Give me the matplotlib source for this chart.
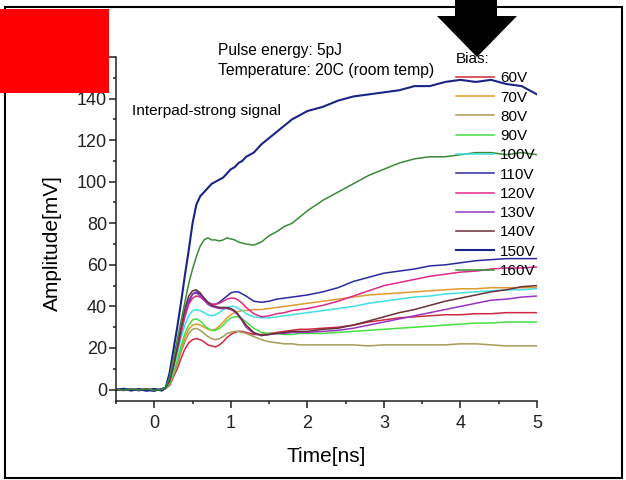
import matplotlib
matplotlib.use('Agg')
import matplotlib.pyplot as plt
from matplotlib.ticker import MultipleLocator
from matplotlib.patches import Rectangle, Polygon

plt.rcParams['font.family'] = ['Liberation Sans', 'DejaVu Sans']

# time axis [ns], shared by every trace
t = [-0.5, -0.4, -0.3, -0.2, -0.1, 0.0, 0.1,
     0.15, 0.2, 0.25, 0.3, 0.35, 0.4, 0.45, 0.5, 0.55, 0.6, 0.65, 0.7, 0.75,
     0.8, 0.85, 0.9, 0.95, 1.0, 1.05, 1.1, 1.15, 1.2,
     1.3, 1.4, 1.5, 1.6, 1.7, 1.8, 1.9, 2.0,
     2.2, 2.4, 2.6, 2.8, 3.0, 3.2, 3.4, 3.6, 3.8, 4.0, 4.2, 4.4, 4.6, 4.8, 5.0]

# amplitude [mV] per bias voltage
v60 = [0.2, -0.3, 0.1, -0.4, 0.2, -0.3, 0.3,
       0.5, 2, 6, 10, 15, 19.5, 22.5, 24, 24.5, 24, 23, 21.5, 21,
       20.5, 21.5, 23, 25, 26.5, 27.5, 28, 28, 27.5,
       26.5, 26.5, 27, 27.5, 28, 28.5, 29, 29,
       29.5, 30, 31, 32.5, 33.5, 34.5, 35, 35.5, 36, 36, 36.5, 36.5, 37, 37, 37]
v70 = [-0.2, 0.3, -0.2, 0.1, -0.3, 0.2, -0.2,
       0.5, 3, 7, 13, 19, 25, 29, 31, 31.5, 31, 30, 29, 28.5,
       29, 30.5, 32.5, 34.5, 36, 37, 37.5, 38, 38,
       38.5, 38.5, 39, 39.5, 40, 40.5, 41, 41.5,
       42.5, 43.5, 44.5, 45.5, 46, 46.5, 47, 47.5, 48, 48.5, 48.5, 49, 49, 49, 49]
v80 = [0.1, -0.4, 0.3, -0.2, 0.2, -0.5, 0.2,
       0.5, 3, 7, 12, 18, 23, 27, 29, 29.5, 28.5, 27, 25.5, 24.5,
       24, 24.5, 25.5, 27, 27.5, 28, 28, 27.5, 27,
       25.5, 24, 23, 22.5, 22, 22, 21.5, 21.5,
       21.5, 21.5, 21.5, 21, 21.5, 21.5, 21.5, 21.5, 21.5, 22, 22, 21.5, 21, 21, 21]
v90 = [-0.3, 0.2, -0.1, 0.3, -0.4, 0.1, -0.1,
       0.5, 3, 8, 14, 21, 27, 31, 33.5, 34, 33, 31, 29.5, 28.5,
       28.5, 29.5, 31, 33, 34.5, 35, 35, 34, 32.5,
       29.5, 27.5, 27, 27, 26.5, 26.5, 27, 27,
       27, 27.5, 28, 28.5, 29, 29.5, 30, 30.5, 31, 31.5, 32, 32, 32.5, 32.5, 32.5]
v100 = [0.3, -0.2, 0.2, -0.5, 0.1, -0.2, 0.4,
        1, 4, 10, 17, 25, 31, 35.5, 38, 38.5, 38, 37, 36, 35.5,
        36, 37, 38.5, 39.5, 40, 40, 39, 38, 36.5,
        35, 34.5, 34.5, 35, 35.5, 36, 36.5, 37,
        38, 39, 40, 41.5, 42.5, 43.5, 44.5, 45, 46, 46.5, 47, 47.5, 48, 48, 48.5]
v110 = [-0.4, 0.1, -0.6, 0.2, -0.3, -0.8, 0.5,
        1, 5, 12, 20, 28, 36, 42, 46, 47, 46, 44, 42, 41,
        41, 42, 43.5, 45, 46.5, 47, 47, 46, 45,
        42.5, 42, 42.5, 43.5, 44, 44.5, 45, 45.5,
        47, 49, 52, 54, 56, 57, 58, 59.5, 60, 61, 62, 62.5, 63, 63, 63]
v120 = [0.2, -0.5, 0.3, -0.2, 0.4, -0.3, 0.2,
        1, 5, 11, 19, 27, 35, 41, 44, 45, 44.5, 43, 42, 41,
        41, 41.5, 42.5, 43.5, 44, 44, 43, 41.5, 39.5,
        36.5, 35, 35.5, 36.5, 37, 38, 38.5, 39,
        40.5, 42.5, 45, 47.5, 50, 51.5, 53, 54.5, 55.5, 56.5, 57, 58, 58.5, 58.5, 59]
v130 = [-0.1, 0.2, -0.4, 0.3, -0.2, 0.1, -0.3,
        1, 5, 12, 20, 29, 37, 43, 46, 46.5, 45, 43, 41, 40,
        39.5, 39, 39, 39, 38.5, 37.5, 35.5, 33, 30,
        27, 26, 26.5, 27, 27, 27.5, 27.5, 27.5,
        28, 28.5, 29.5, 31, 32.5, 34, 35.5, 37, 38.5, 40, 41.5, 43, 43.5, 44.5, 45]
v140 = [0.3, -0.2, 0.1, -0.5, 0.3, -0.4, 0.2,
        1, 4, 11, 20, 30, 39, 45, 47.5, 48, 46.5, 44, 42, 40.5,
        40, 39.5, 39.5, 39.5, 39, 38, 36, 33.5, 31,
        27.5, 26, 26.5, 27, 27.5, 28, 28, 28,
        29, 29.5, 31, 33, 35, 37, 38.5, 40.5, 42.5, 44, 45.5, 47, 48, 49.5, 50]
v150 = [-0.2, 0.4, -0.3, 0.2, -0.6, 0.3, -0.5,
        1, 8, 19, 30, 42, 55, 67, 80, 89, 93, 95, 97, 99,
        100, 101, 102, 104, 106, 107, 109, 110, 112,
        114, 118, 121, 124, 127, 130, 132, 134,
        136, 139, 141, 142, 143, 144, 146, 146, 148, 149, 148, 149, 147, 146, 142]
v160 = [0.1, -0.3, 0.2, -0.1, 0.3, -0.4, 0.1,
        1, 6, 15, 24, 33, 42, 51, 58, 64, 69, 72, 73, 72,
        72, 71.5, 72, 73, 72.5, 72, 71, 70.5, 70,
        69.5, 71, 74, 76, 78.5, 80, 83, 86,
        91, 95, 99, 103, 106, 109, 111, 112, 112, 113, 114, 114, 113, 114, 113]

series = [v60, v70, v80, v90, v100, v110, v120, v130, v140, v150, v160]
labels = ['60V', '70V', '80V', '90V', '100V', '110V', '120V', '130V', '140V', '150V', '160V']
colors = ['#d02840', '#e09a30', '#a89a58', '#44e044', '#40e0e0', '#2a2aa0',
          '#e0288c', '#9a34c0', '#6a3038', '#1a2488', '#3a8a3a']

W, H = 626, 480
fig = plt.figure(figsize=(W / 100, H / 100), dpi=100)


def fx(x):
    return x / W


def fy(y):
    return 1 - y / H


ax = fig.add_axes([fx(116), fy(401), fx(537) - fx(116), fy(57) - fy(401)])

for vals, lab, col in zip(series, labels, colors):
    lw = 1.5 if lab == '150V' else 1.1
    ax.plot(t, vals, color=col, lw=lw, label=lab)

ax.set_xlim(-0.5, 5)
ax.set_ylim(-5.5, 160)
ax.xaxis.set_major_locator(MultipleLocator(1))
ax.xaxis.set_minor_locator(MultipleLocator(0.5))
ax.yaxis.set_major_locator(MultipleLocator(20))
ax.yaxis.set_minor_locator(MultipleLocator(10))
for s in ['top', 'right']:
    ax.spines[s].set_visible(False)
for s in ['left', 'bottom']:
    ax.spines[s].set_linewidth(1.1)
    ax.spines[s].set_color('#222222')
ax.tick_params(which='major', direction='out', length=5, width=1.1, labelsize=13, colors='#222222')
ax.tick_params(which='minor', direction='out', length=2.5, width=1.1, colors='#222222')
ax.tick_params(axis='x', which='major', pad=5)
ax.tick_params(axis='y', which='major', pad=1.5)

ax.set_xlabel('Time[ns]', fontsize=15)
ax.set_ylabel('Amplitude[mV]', fontsize=15)
ax.xaxis.set_label_coords(0.5, -0.135)
ax.yaxis.set_label_coords(-0.128, 0.46)

leg = ax.legend(loc='upper left', bbox_to_anchor=(fx(456), fy(52)), bbox_transform=fig.transFigure,
                frameon=False, title='Bias:', fontsize=11, title_fontsize=11,
                handlelength=2.5, handletextpad=0.4, labelspacing=0.345, borderpad=0,
                borderaxespad=0, alignment='left')

fig.text(fx(218), fy(51), 'Pulse energy: 5pJ', fontsize=11.2, va='center')
fig.text(fx(218), fy(70), 'Temperature: 20C (room temp)', fontsize=11.3, va='center')
fig.text(fx(132), fy(111), 'Interpad-strong signal', fontsize=11.1, va='center')

# screenshot frame, red mask and black arrow
fig.add_artist(Rectangle((fx(5), fy(478)), fx(622) - fx(5), fy(7) - fy(478),
                         transform=fig.transFigure, fill=False, ec='black', lw=1.5))
fig.add_artist(Rectangle((0, fy(93)), fx(109), fy(9) - fy(93),
                         transform=fig.transFigure, fc='#ff0000', ec='none', zorder=5))
arrow = [(455, 0), (497, 0), (497, 16), (517, 16), (477, 57), (437, 16), (455, 16)]
fig.add_artist(Polygon([(fx(x), fy(y)) for x, y in arrow], closed=True,
                       transform=fig.transFigure, fc='black', ec='none', zorder=5))

fig.savefig('out.png', dpi=100)
